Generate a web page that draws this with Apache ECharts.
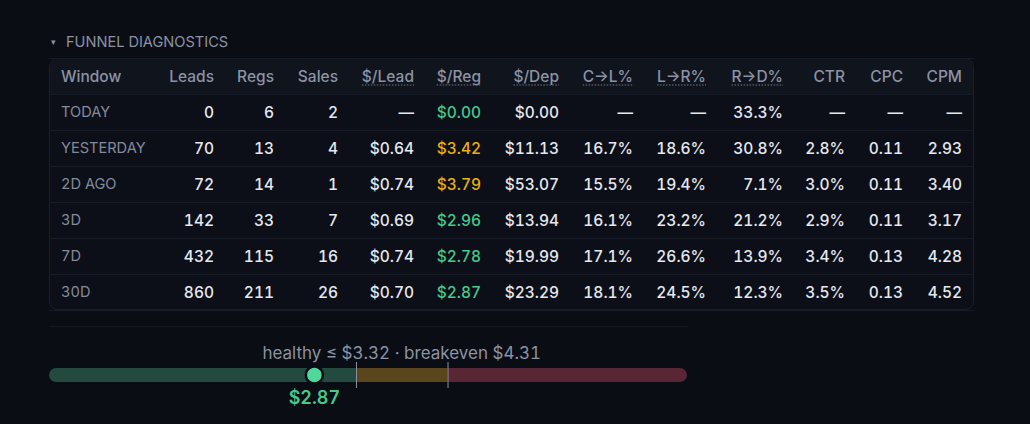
<!DOCTYPE html>
<html>
<head>
<meta charset="utf-8">
<script src="https://cdn.jsdelivr.net/npm/echarts@6/dist/echarts.min.js"></script>
<style>
html, body { margin: 0; padding: 0; background: #0a0d14; }
#chart { width: 1030px; height: 424px; }
#chart text { font-variant-numeric: tabular-nums !important; font-feature-settings: "tnum" 1 !important; }
</style>
</head>
<body>
<div id="chart"></div>
<script>
// table data
var windows = ['TODAY', 'YESTERDAY', '2D AGO', '3D', '7D', '30D'];
var headers = ['Window', 'Leads', 'Regs', 'Sales', '$/Lead', '$/Reg', '$/Dep', 'C→L%', 'L→R%', 'R→D%', 'CTR', 'CPC', 'CPM'];
var leads = [0, 70, 72, 142, 432, 860];
var regs = [6, 13, 14, 33, 115, 211];
var sales = [2, 4, 1, 7, 16, 26];
var costLead = [null, 0.64, 0.74, 0.69, 0.74, 0.70];
var costReg = [0.00, 3.42, 3.79, 2.96, 2.78, 2.87];
var costDep = [0.00, 11.13, 53.07, 13.94, 19.99, 23.29];
var clRate = [null, 16.7, 15.5, 16.1, 17.1, 18.1];
var lrRate = [null, 18.6, 19.4, 23.2, 26.6, 24.5];
var rdRate = [33.3, 30.8, 7.1, 21.2, 13.9, 12.3];
var ctr = [null, 2.8, 3.0, 2.9, 3.4, 3.5];
var cpc = [null, 0.11, 0.11, 0.11, 0.13, 0.13];
var cpm = [null, 2.93, 3.40, 3.17, 4.28, 4.52];

// cost per reg gauge
var healthyMax = 3.32;
var breakeven = 4.31;
var current = 2.87;
var gaugeMax = 6.9;

// layout: column anchor (px from table left), first column left aligned
var colX = [12, 165, 225, 289, 365, 432, 510, 584, 657, 734, 796, 854, 913];
var dotted = [4, 5, 6, 7, 8, 9];

var GRAY = '#8b93a5', DIM = '#828b9e', WHITE = '#e5e8ee', GREEN = '#45c98c', AMBER = '#e8b20e', RED = '#e0566e';
var HEAD_FONT = '500 15.5px Inter', VAL_FONT = '500 15.5px Inter', WIN_FONT = '400 14.6px Inter';

function dash(v, f) { return v == null ? '—' : f(v); }
function money(v) { return '$' + v.toFixed(2); }
function pct(v) { return v.toFixed(1) + '%'; }
function num(v) { return v.toFixed(2); }
function regColor(v) { return v <= healthyMax ? GREEN : (v <= breakeven ? AMBER : RED); }

var cells = [];
headers.forEach(function (h, c) {
  cells.push({ value: [colX[c], 0], text: h, color: GRAY, font: HEAD_FONT, left: c === 0, under: dotted.indexOf(c) >= 0 });
});
windows.forEach(function (w, i) {
  var r = i + 1;
  var row = [
    w, String(leads[i]), String(regs[i]), String(sales[i]),
    dash(costLead[i], money), dash(costReg[i], money), dash(costDep[i], money),
    dash(clRate[i], pct), dash(lrRate[i], pct), dash(rdRate[i], pct),
    dash(ctr[i], pct), dash(cpc[i], num), dash(cpm[i], num)
  ];
  row.forEach(function (t, c) {
    var col = c === 0 ? DIM : (c === 5 && costReg[i] != null ? regColor(costReg[i]) : WHITE);
    cells.push({ value: [colX[c], r], text: t, color: col, font: c === 0 ? WIN_FONT : VAL_FONT, left: c === 0, under: false });
  });
});

var measure = document.createElement('canvas').getContext('2d');
function textW(t, font) { measure.font = font; return measure.measureText(t).width; }

function renderCell(params, api) {
  var cell = cells[params.dataIndex];
  var p = api.coord([api.value(0), api.value(1)]);
  var kids = [{
    type: 'text', x: p[0], y: p[1],
    style: { text: cell.text, fill: cell.color, font: cell.font, align: cell.left ? 'left' : 'right', verticalAlign: 'middle' }
  }];
  if (cell.under) {
    var w = textW(cell.text, cell.font);
    kids.push({
      type: 'line',
      shape: { x1: p[0] - w, y1: p[1] + 9, x2: p[0], y2: p[1] + 9 },
      style: { stroke: '#6f7789', lineWidth: 1, lineDash: [1.5, 1.5] }
    });
  }
  return { type: 'group', children: kids };
}

function renderTick(params, api) {
  var p = api.coord([api.value(0), 0]);
  return { type: 'line', shape: { x1: p[0] + 0.5, y1: p[1] - 13, x2: p[0] + 0.5, y2: p[1] + 13 },
           style: { stroke: '#8d929c', lineWidth: 1 } };
}

function renderNote(params, api) {
  var p = api.coord([api.value(0), 0]);
  return { type: 'text', x: p[0], y: p[1] - 22,
           style: { text: 'healthy ≤ $' + healthyMax.toFixed(2) + ' · breakeven $' + breakeven.toFixed(2),
                    fill: GRAY, font: '400 17px Inter', align: 'center', verticalAlign: 'middle' } };
}

var myChart = echarts.init(document.getElementById('chart'), null, { renderer: 'svg' });
var option = {
  backgroundColor: '#0a0d14',
  animation: false,
  graphic: [
    { type: 'text', x: 51, y: 42, z: -5, style: { text: '▾', fill: GRAY, font: '9px "DejaVu Sans"', verticalAlign: 'middle' } },
    { type: 'text', x: 66, y: 42, z: -5, style: { text: 'FUNNEL DIAGNOSTICS', fill: GRAY, font: '400 14.6px Inter', verticalAlign: 'middle' } },
    { type: 'rect', z: -10, shape: { x: 49.5, y: 58.5, width: 924, height: 251, r: 8 },
      style: { fill: '#0c0f17', stroke: '#1b1f29', lineWidth: 1 } },
    { type: 'rect', z: -9, shape: { x: 50, y: 59, width: 923, height: 35, r: [7, 7, 0, 0] },
      style: { fill: '#10141d' } },
    { type: 'line', z: -9, shape: { x1: 49, y1: 326.5, x2: 688, y2: 326.5 }, style: { stroke: '#141923', lineWidth: 1 } }
  ],
  grid: [
    { left: 49, top: 58, width: 925, height: 252 },
    { left: 49, top: 368, width: 638, height: 14 }
  ],
  xAxis: [
    { type: 'value', gridIndex: 0, min: 0, max: 925, show: false },
    { type: 'value', gridIndex: 1, min: 0, max: gaugeMax, show: false }
  ],
  yAxis: [
    { type: 'category', gridIndex: 0, inverse: true, data: ['head'].concat(windows), z: 1,
      axisLine: { show: false }, axisTick: { show: false }, axisLabel: { show: false },
      splitLine: { show: true, interval: 0, lineStyle: { color: '#171b25', width: 1 } } },
    { type: 'category', gridIndex: 1, data: ['cpr'], show: false }
  ],
  series: [
    { type: 'custom', xAxisIndex: 0, yAxisIndex: 0, data: cells, renderItem: renderCell, z: 3 },
    { type: 'bar', xAxisIndex: 1, yAxisIndex: 1, stack: 'g', barWidth: 14, data: [healthyMax],
      itemStyle: { color: '#234a3e', borderRadius: [7, 0, 0, 7] } },
    { type: 'bar', xAxisIndex: 1, yAxisIndex: 1, stack: 'g', barWidth: 14, data: [breakeven - healthyMax],
      itemStyle: { color: '#5a461c' } },
    { type: 'bar', xAxisIndex: 1, yAxisIndex: 1, stack: 'g', barWidth: 14, data: [gaugeMax - breakeven],
      itemStyle: { color: '#582634', borderRadius: [0, 7, 7, 0] } },
    { type: 'custom', xAxisIndex: 1, yAxisIndex: 1, data: [[healthyMax, 0], [breakeven, 0]], renderItem: renderTick, z: 4 },
    { type: 'custom', xAxisIndex: 1, yAxisIndex: 1, data: [[(healthyMax + breakeven) / 2, 0]], renderItem: renderNote, z: 4 },
    { type: 'scatter', xAxisIndex: 1, yAxisIndex: 1, data: [[current, 0]], symbol: 'circle', symbolSize: 17, z: 5,
      itemStyle: { color: '#4fd89a', borderColor: '#0a0d14', borderWidth: 2.5, opacity: 1 },
      label: { show: true, position: 'bottom', distance: 4, formatter: '$' + current.toFixed(2),
               color: GREEN, fontFamily: 'Inter', fontSize: 18, fontWeight: 600 } }
  ]
};
myChart.setOption(option);
</script>
</body>
</html>
